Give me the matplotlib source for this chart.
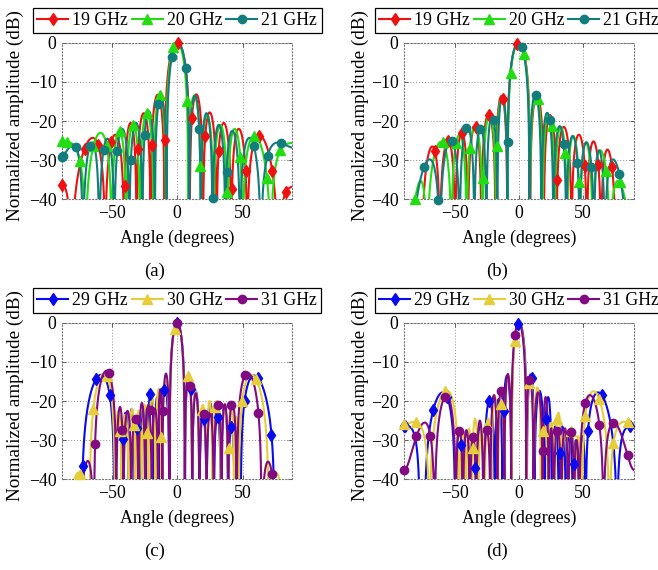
import numpy as np
import matplotlib.pyplot as plt
from matplotlib.lines import Line2D

plt.rcParams['font.family'] = 'serif'
plt.rcParams['font.serif'] = ['Liberation Serif', 'DejaVu Serif']
plt.rcParams['mathtext.fontset'] = 'stix'

# each curve: nulls (deg) and the peak level (dB) of the lobe between two nulls
# (a) 19/20/21 GHz
red19a_nulls = [-100, -81, -55, -40.5, -31, -20.3, -9.6, 9.6, 19.8, 30.2, 41.4, 53.5, 77, 105]
red19a_peaks = [-36, -24.3, -23.5, -20.5, -18, -13.3, 0, -13.2, -17.8, -20.5, -22, -23.7, -36.5]
green20a_nulls = [-110, -70, -50, -39, -28.5, -18, -8.6, 8.4, 18, 27.8, 38.5, 50, 71.5, 110]
green20a_peaks = [-25.2, -23, -22.4, -21, -18, -13.2, 0, -13.5, -18.5, -21, -22, -23.8, -25.5]
teal21a_nulls = [-100, -72, -59.5, -48, -36.5, -26.5, -17, -8, 9.2, 18, 27, 36.8, 48, 64, 108]
teal21a_peaks = [-26, -25.5, -24.5, -22, -20.5, -17.5, -13.5, 0, -13.5, -18, -21, -22.5, -24.3, -25.5]

# (b) 19/20/21 GHz
red19b_nulls = [-110, -76, -62, -50, -40, -29.5, -18.5, -9.3, 8.6, 19.3, 29.2, 41, 53, 64, 75.5, 100]
red19b_peaks = [-42, -26.5, -25, -23, -21.5, -18.3, -13.6, 0, -13.5, -18.5, -21.5, -23.5, -25.2, -27.3, -41]
green20b_nulls = [-120, -86, -72, -53, -41, -28.5, -18, -9, 8.4, 18.3, 27.8, 37.5, 47.5, 57.5, 71, 95, 120]
green20b_peaks = [-50, -35.3, -25.3, -23.5, -21.5, -18.5, -13.8, 0, -13.5, -18.4, -21.5, -23.9, -25.6, -27.5, -35.3, -50]
teal21b_nulls = [-110, -85, -62, -46.5, -35, -25.5, -17, -9.2, 8, 17.3, 26.7, 36.8, 47.3, 58.5, 67, 85, 110]
teal21b_peaks = [-45, -29.8, -25, -21.5, -21.8, -18.5, -13.6, 0, -13.2, -17.9, -21.3, -23.8, -25.4, -27.5, -29.8, -45]

# (c) 29/30/31 GHz
blue29c_nulls = [-100, -73, -48, -42, -37, -32.5, -28, -23, -17.5, -13, -6, 6, 11.5, 17, 22.5, 28,
                 33.5, 39, 44, 48.5, 74.5, 100]
blue29c_peaks = [-45, -13.3, -23.5, -23, -22, -26, -21.5, -18, -19, -16.5, 0, -13, -17.5, -23.5, -20.5,
                 -24, -21, -26.5, -27, -13.5, -45]
yellow30c_nulls = [-100, -86, -70, -67, -47.5, -42.5, -37, -32, -27, -22, -16.5, -12, -5.8, 5.8, 11.3,
                   16.8, 22.5, 27, 33.5, 39, 43.5, 47, 70, 85, 100]
yellow30c_peaks = [-45, -38.3, -45, -13, -22.5, -23.5, -22, -22.5, -21, -19, -17, -15, -0.3, -13.5,
                   -17.5, -21, -20, -20, -22, -21, -24, -13.3, -38.3, -45]
purple31c_nulls = [-100, -74.5, -63.5, -46.5, -41, -35, -29.5, -24.5, -19.5, -14.5, -11.3, -5.8, 5.8,
                   11.5, 17, 22.5, 28, 34, 39, 45.5, 64.5, 76, 100]
purple31c_peaks = [-45, -35.3, -12.3, -21.5, -22.5, -23.8, -20.5, -21, -22, -17, -13, 0, -13, -18,
                   -22.5, -23, -21, -20.8, -20.3, -12.8, -35.5, -45]

# (d) 29/30/31 GHz
blue29d_nulls = [-103, -77.5, -74, -50, -44, -38.5, -33.5, -27.5, -19, -13, -6, 6, 12, 19.8, 25.5, 31,
                 36.5, 42, 47, 52, 76.5, 103]
blue29d_peaks = [-26.3, -45, -17.8, -27, -27.5, -30, -26.5, -20, -19.5, -13.5, 0, -13.2, -17.4, -19,
                 -26.5, -26.5, -28, -30, -29, -17.8, -26.5]
yellow30d_nulls = [-106, -70, -47, -41.5, -37, -32, -27, -21.5, -16.5, -11.5, -5.8, 5.8, 11.5, 17,
                   22.5, 28, 33.5, 38.5, 43.5, 49, 70.5, 106]
yellow30d_peaks = [-25.3, -17.3, -28, -27, -24.5, -27, -24.5, -18.5, -20.5, -13.5, -0.5, -14.3, -16.5,
                   -26, -25.5, -23, -27, -27.5, -29, -17.5, -25.3]
purple31d_nulls = [-97, -66, -49.5, -44, -38.5, -33.5, -28, -22.5, -17, -11.5, -6.2, 5.5, 11.2, 18.4,
                   23, 27, 33, 38.5, 43, 47, 66, 97]
purple31d_peaks = [-25.5, -18.7, -27, -27.5, -29, -25, -27.5, -18.5, -17.5, -13.1, 0, -14, -17.8, -19,
                   -27, -27.5, -27, -28, -30, -18.5, -25.5]

legend_top = ['19 GHz', '20 GHz', '21 GHz']
legend_bot = ['29 GHz', '30 GHz', '31 GHz']

RED, GREEN, TEAL = '#ee1111', '#22dd11', '#137d7d'
BLUE, YELLOW, PURPLE = '#0a0aee', '#e6cd3a', '#820a82'


def warp(th):
    # sin(theta) inside +-90, mirrored continuation outside
    a = np.abs(th)
    s = np.sin(np.radians(np.minimum(a, 180)))
    return np.sign(th) * np.where(a <= 90, s, 2 - s)


def pattern(x, nulls, peaks):
    y = np.full_like(x, -200.0)
    for a, b, p in zip(nulls[:-1], nulls[1:], peaks):
        m = (x >= a) & (x <= b)
        t = (warp(x[m]) - warp(a)) / (warp(b) - warp(a))
        y[m] = p + 20 * np.log10(np.maximum(np.sin(np.pi * t), 1e-9))
    return y


panels = [
    ('(a)', 88, legend_top, [
        (red19a_nulls, red19a_peaks, RED, 'd', 1.0, 10.25),
        (green20a_nulls, green20a_peaks, GREEN, '^', -2.8, 10.2),
        (teal21a_nulls, teal21a_peaks, TEAL, 'o', -4.0, 10.45)]),
    ('(b)', 90, legend_top, [
        (red19b_nulls, red19b_peaks, RED, 'd', -2.0, 10.65),
        (green20b_nulls, green20b_peaks, GREEN, '^', 4.0, 10.65),
        (teal21b_nulls, teal21b_peaks, TEAL, 'o', 2.0, 10.9)]),
    ('(c)', 88, legend_bot, [
        (blue29c_nulls, blue29c_peaks, BLUE, 'd', 0.0, 10.3),
        (yellow30c_nulls, yellow30c_peaks, YELLOW, '^', -2.0, 10.35),
        (purple31c_nulls, purple31c_peaks, PURPLE, 'o', -0.3, 10.4)]),
    ('(d)', 90, legend_bot, [
        (blue29d_nulls, blue29d_peaks, BLUE, 'd', -1.2, 11.0),
        (yellow30d_nulls, yellow30d_peaks, YELLOW, '^', -3.3, 11.0),
        (purple31d_nulls, purple31d_peaks, PURPLE, 'o', -3.3, 11.0)]),
]

W, H = 658, 570
fig = plt.figure(figsize=(W / 100, H / 100), dpi=100)

boxes = [(62, 42.7), (404, 42.7), (62, 322.7), (404, 322.7)]
caps = [(155, 271), (497, 271), (155, 551), (497, 551)]
aw, ah = 230.3, 156.6
FS = 12.8

for (cap, lim, labels, series), (px, py), (cx, cy) in zip(panels, boxes, caps):
    ax = fig.add_axes([px / W, 1 - (py + ah) / H, aw / W, ah / H])
    x = np.linspace(-lim, lim, 6001)
    handles = []
    for (nulls, peaks, col, mk, ph, st), lab in zip(series, labels):
        y = pattern(x, nulls, peaks)
        ax.plot(x, y, color=col, lw=1.5, zorder=3)
        k = np.arange(-20, 21)
        mx = np.concatenate([[-lim], ph + st * k])
        mx = mx[(mx >= -lim) & (mx <= lim)]
        my = np.interp(mx, x, y)
        keep = my >= -40.8
        ms = 6.5 if mk != 'o' else 6
        ax.plot(mx[keep], my[keep], ls='none', marker=mk, color=col, mec=col,
                ms=ms, clip_on=False, zorder=4)
        handles.append(Line2D([], [], color=col, lw=1.5, marker=mk, mec=col,
                              ms=ms, label=lab))

    ax.set_xlim(-lim, lim)
    ax.set_ylim(-40, 0)
    ax.set_xticks([-50, 0, 50])
    ax.set_yticks([0, -10, -20, -30, -40])
    ax.grid(True, linestyle=(0, (1, 2)), color='0.55', lw=0.7)
    for sp in ax.spines.values():
        sp.set_linestyle((0, (1, 2)))
        sp.set_color('0.45')
        sp.set_linewidth(0.8)
    ax.tick_params(direction='in', top=True, right=True, length=3, width=0.6,
                   color='0.3', labelsize=FS, pad=4)
    ax.set_xlabel('Angle (degrees)', fontsize=FS, va='center')
    ax.set_ylabel('Normalized amplitude (dB)', fontsize=13.8)
    ax.xaxis.set_label_coords(0.5, -0.252)
    ax.yaxis.set_label_coords(-0.165 if px < 300 else -0.15, 0.535)

    leg = ax.legend(handles=handles, loc='lower center', bbox_to_anchor=(0.5, 1.06),
                    ncol=3, fontsize=FS, frameon=True, fancybox=False, framealpha=1,
                    edgecolor='black', handlelength=1.75, handletextpad=0.22,
                    columnspacing=0.22, borderpad=0.24, borderaxespad=0)
    leg.get_frame().set_linewidth(0.9)

    fig.text(cx / W, 1 - cy / H, cap, ha='center', va='center', fontsize=13.5)

fig.savefig('out.png', dpi=100)
